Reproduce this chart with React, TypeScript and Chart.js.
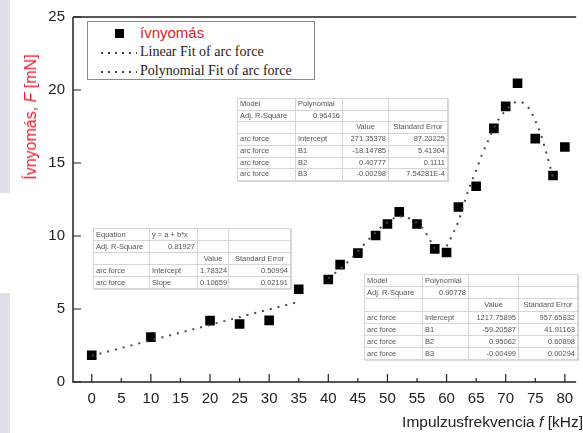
import React, { useEffect, useRef } from "react";
import { Chart, registerables } from "chart.js";

Chart.register(...registerables);

// ---------- data ----------
const frequencies = [0, 10, 20, 25, 30, 35, 40, 42, 45, 48, 50, 52, 55, 58, 60, 62, 65, 68, 70, 72, 75, 78, 80];
const arcForce = [1.83, 3.07, 4.2, 3.97, 4.22, 6.35, 7.02, 8.04, 8.83, 10.03, 10.82, 11.65, 10.82, 9.12, 8.87, 11.99, 13.41, 17.37, 18.88, 20.46, 16.67, 14.14, 16.1];

const linearFitX = [0, 35];
const linearFitY = [1.8, 5.5];

const polyFit1X = [40, 42, 44, 46, 48, 50, 52, 54, 56, 58];
const polyFit1Y = [7.1, 7.75, 8.5, 9.4, 10.25, 10.95, 11.33, 11.15, 10.5, 9.15];

const polyFit2X = [60, 61, 62, 63, 64, 65, 66, 67, 68, 69, 70, 71, 72, 73, 74, 75, 76, 77, 78];
const polyFit2Y = [9.3, 10.1, 11.0, 12.3, 13.5, 14.5, 15.6, 16.5, 17.4, 18.1, 18.6, 19.0, 19.2, 19.1, 18.7, 17.9, 16.9, 15.5, 14.0];

const xTickValues = [0, 5, 10, 15, 20, 25, 30, 35, 40, 45, 50, 55, 60, 65, 70, 75, 80];
const xMajorTicks = [0, 10, 20, 30, 40, 50, 60, 70, 80];
const xMinorTicks = [5, 15, 25, 35, 45, 55, 65, 75];
const yTickValues = [0, 5, 10, 15, 20, 25];

const legendLabels = ["ívnyomás", "Linear Fit of arc force", "Polynomial Fit of arc force"];
const yTitleMain = "Ívnyomás, ";
const yTitleVar = "F";
const yTitleUnit = " [mN]";
const xTitleMain = "Impulzusfrekvencia ";
const xTitleVar = "f";
const xTitleUnit = " [kHz]";

const polyTable1 = [
  ["Model", "Polynomial", "", ""],
  ["Adj. R-Square", "0.96416", "", ""],
  ["", "", "Value", "Standard Error"],
  ["arc force", "Intercept", "271.35378", "87.20225"],
  ["arc force", "B1", "-18.14785", "5.41304"],
  ["arc force", "B2", "0.40777", "0.1111"],
  ["arc force", "B3", "-0.00298", "7.54281E-4"],
];
const linearTable = [
  ["Equation", "y = a + b*x", "", ""],
  ["Adj. R-Square", "0.81927", "", ""],
  ["", "", "Value", "Standard Error"],
  ["arc force", "Intercept", "1.78324", "0.50994"],
  ["arc force", "Slope", "0.10659", "0.02191"],
];
const polyTable2 = [
  ["Model", "Polynomial", "", ""],
  ["Adj. R-Square", "0.90778", "", ""],
  ["", "", "Value", "Standard Error"],
  ["arc force", "Intercept", "1217.75895", "957.65832"],
  ["arc force", "B1", "-59.20587", "41.91163"],
  ["arc force", "B2", "0.95062", "0.60898"],
  ["arc force", "B3", "-0.00499", "0.00294"],
];

const RED = "#e2192f";
const AXIS = "#222222";
const SANS = "'Liberation Sans', Arial, sans-serif";
const SERIF = "'Liberation Serif', 'Times New Roman', serif";

const toPoints = (xs: number[], ys: number[]) => xs.map((x, i) => ({ x, y: ys[i] }));

const framePlugin = {
  id: "frameTicks",
  beforeDatasetsDraw(chart: any) {
    const { ctx, chartArea, scales } = chart;
    const { left, right, top, bottom } = chartArea;
    ctx.save();
    ctx.strokeStyle = AXIS;
    ctx.lineWidth = 1.5;
    ctx.beginPath();
    ctx.moveTo(left, top);
    ctx.lineTo(right, top);
    ctx.moveTo(left, top);
    ctx.lineTo(left, bottom);
    ctx.lineTo(right, bottom);
    ctx.stroke();
    ctx.lineWidth = 1.2;
    ctx.beginPath();
    xMajorTicks.forEach((v) => {
      const px = scales.x.getPixelForValue(v);
      ctx.moveTo(px, bottom);
      ctx.lineTo(px, bottom - 8);
    });
    xMinorTicks.forEach((v) => {
      const px = scales.x.getPixelForValue(v);
      ctx.moveTo(px, bottom);
      ctx.lineTo(px, bottom - 4);
    });
    yTickValues.forEach((v) => {
      const py = scales.y.getPixelForValue(v);
      ctx.moveTo(left, py);
      ctx.lineTo(left + 8, py);
    });
    ctx.stroke();
    ctx.restore();
  },
};

function DataTable({ rows, cols, rowH, left, top }: { rows: string[][]; cols: number[]; rowH: number; left: number; top: number }) {
  const width = cols.reduce((a, b) => a + b, 0);
  return (
    <table
      style={{
        position: "absolute",
        left,
        top,
        width,
        borderCollapse: "collapse",
        tableLayout: "fixed",
        background: "#ffffff",
        border: "1px solid #9a9a9a",
        boxShadow: "1px 1px 1px rgba(0,0,0,0.15)",
        fontFamily: SANS,
        fontSize: 7.5,
        color: "#555",
      }}
    >
      <colgroup>
        {cols.map((w, i) => (
          <col key={i} style={{ width: w }} />
        ))}
      </colgroup>
      <tbody>
        {rows.map((r, ri) => (
          <tr key={ri} style={{ height: rowH }}>
            {r.map((c, ci) => {
              let align: any = "left";
              if (ri === 2) align = "center";
              else if (ci >= 2) align = "right";
              else if (ci === 1 && ri === 1) align = "right";
              return (
                <td
                  key={ci}
                  style={{
                    border: "1px solid #d6d6d6",
                    padding: "0 2px",
                    height: rowH,
                    lineHeight: rowH - 1 + "px",
                    textAlign: align,
                    whiteSpace: "nowrap",
                    overflow: "hidden",
                    boxSizing: "border-box",
                  }}
                >
                  {c}
                </td>
              );
            })}
          </tr>
        ))}
      </tbody>
    </table>
  );
}

export default function App() {
  const canvasRef = useRef<HTMLCanvasElement | null>(null);

  useEffect(() => {
    const canvas = canvasRef.current;
    if (!canvas) return;
    const fitStyle = {
      type: "line" as const,
      showLine: true,
      pointRadius: 0,
      borderColor: "#4a4a4a",
      borderWidth: 2,
      borderDash: [2, 6],
      borderCapStyle: "butt" as const,
      fill: false,
      tension: 0.4,
      cubicInterpolationMode: "monotone" as const,
    };
    const chart = new Chart(canvas, {
      type: "scatter",
      data: {
        datasets: [
          { ...fitStyle, label: legendLabels[1], data: toPoints(linearFitX, linearFitY), tension: 0 },
          { ...fitStyle, label: legendLabels[2], data: toPoints(polyFit1X, polyFit1Y) },
          { ...fitStyle, label: legendLabels[2], data: toPoints(polyFit2X, polyFit2Y) },
          {
            type: "scatter",
            label: legendLabels[0],
            data: toPoints(frequencies, arcForce),
            pointStyle: "rect",
            pointRadius: 6.8,
            backgroundColor: "#000000",
            borderColor: "#000000",
            borderWidth: 0,
          },
        ],
      },
      options: {
        responsive: false,
        animation: false,
        layout: { padding: { top: 13, left: 0, right: 0, bottom: 0 } },
        plugins: { legend: { display: false }, tooltip: { enabled: false }, title: { display: false } },
        scales: {
          x: {
            type: "linear",
            min: -3.17,
            max: 81.92,
            grid: { display: false, drawTicks: false },
            border: { display: false },
            afterBuildTicks: (scale: any) => {
              scale.ticks = xTickValues.map((v) => ({ value: v }));
            },
            afterFit: (scale: any) => {
              scale.height = 51;
            },
            ticks: {
              autoSkip: false,
              maxRotation: 0,
              padding: 8,
              color: AXIS,
              font: { family: SANS, size: 15 },
            },
          },
          y: {
            type: "linear",
            min: 0,
            max: 25,
            grid: { display: false, drawTicks: false },
            border: { display: false },
            afterBuildTicks: (scale: any) => {
              scale.ticks = yTickValues.map((v) => ({ value: v }));
            },
            afterFit: (scale: any) => {
              scale.width = 73;
            },
            ticks: {
              padding: 8,
              color: AXIS,
              font: { family: SANS, size: 15 },
            },
          },
        },
      },
      plugins: [framePlugin],
    } as any);
    return () => chart.destroy();
  }, []);

  const dotted = {
    display: "inline-block",
    width: 36,
    height: 2,
    background: "repeating-linear-gradient(to right, #444 0 2px, transparent 2px 7px)",
  };

  return (
    <div style={{ position: "fixed", left: 0, top: 0, width: 583, height: 433, background: "#ffffff", overflow: "hidden" }}>
      <div style={{ position: "absolute", left: 0, top: 0, width: 10, height: 193, background: "#dfe0ea" }} />
      <div style={{ position: "absolute", left: 0, top: 293, width: 10, height: 140, background: "#dfe0ea" }} />
      <canvas ref={canvasRef} width={583} height={433} style={{ position: "absolute", left: 0, top: 0, width: 583, height: 433 }} />

      {/* y-axis title */}
      <div
        style={{
          position: "absolute",
          left: 31,
          top: 117,
          transform: "translate(-50%, -50%) rotate(-90deg)",
          whiteSpace: "nowrap",
          fontFamily: SANS,
          fontSize: 16,
          color: RED,
        }}
      >
        {yTitleMain}
        <i>{yTitleVar}</i>
        {yTitleUnit}
      </div>

      {/* x-axis title */}
      <div
        style={{
          position: "absolute",
          right: 0,
          top: 413,
          whiteSpace: "nowrap",
          fontFamily: SANS,
          fontSize: 15.5,
          color: "#222",
        }}
      >
        {xTitleMain}
        <i>{xTitleVar}</i>
        {xTitleUnit}
      </div>

      {/* legend */}
      <div
        style={{
          position: "absolute",
          left: 87,
          top: 21,
          width: 228,
          height: 59,
          boxSizing: "border-box",
          border: "1px solid #8a8a8a",
          background: "#ffffff",
        }}
      >
        <div style={{ position: "absolute", left: 27, top: 7, width: 9, height: 9, background: "#000" }} />
        <div style={{ position: "absolute", left: 52, top: 2, fontFamily: SANS, fontSize: 15, color: RED, lineHeight: "18px" }}>
          {legendLabels[0]}
        </div>
        <div style={{ ...dotted, position: "absolute", left: 13, top: 30 }} />
        <div style={{ position: "absolute", left: 52, top: 21, fontFamily: SERIF, fontSize: 14, color: "#222", lineHeight: "18px" }}>
          {legendLabels[1]}
        </div>
        <div style={{ ...dotted, position: "absolute", left: 13, top: 49 }} />
        <div style={{ position: "absolute", left: 52, top: 40, fontFamily: SERIF, fontSize: 14, color: "#222", lineHeight: "18px" }}>
          {legendLabels[2]}
        </div>
      </div>

      <DataTable rows={polyTable1} cols={[58, 47, 46, 59]} rowH={11.7} left={237} top={98} />
      <DataTable rows={linearTable} cols={[56, 48, 31, 62]} rowH={12} left={93} top={228} />
      <DataTable rows={polyTable2} cols={[58, 46, 50, 59]} rowH={12.2} left={364} top={274} />
    </div>
  );
}
